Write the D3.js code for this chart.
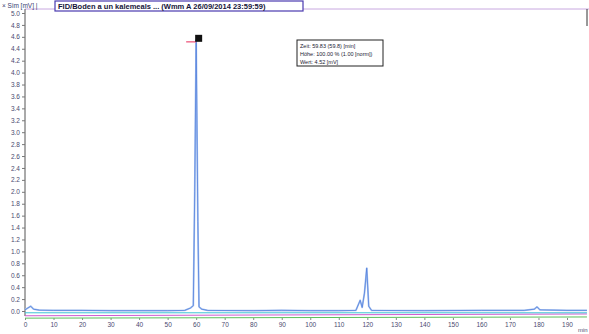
<!DOCTYPE html>
<html>
<head>
<meta charset="utf-8">
<script src="https://cdn.jsdelivr.net/npm/d3@7/dist/d3.min.js"></script>
<style>
  body { margin: 0; background: #fff; }
  svg text { font-family: "Liberation Sans", Arial, sans-serif; }
</style>
</head>
<body>
<div id="chart"></div>
<script>
// retention time (min) and signal of the main trace
const times  = [0, 1, 2, 3, 5, 10, 20, 30, 40, 50, 56, 58, 59, 59.5, 60, 60.6, 61, 62, 64, 80, 90, 100, 110, 116, 117.5, 118.2, 119, 119.8, 120.5, 121.5, 140, 160, 175, 178.5, 179.5, 180.5, 190, 197];
const signal = [0.02, 0.05, 0.08, 0.03, 0.015, 0.01, 0.01, 0.005, 0.005, 0.005, 0.01, 0.05, 0.09, 2.0, 4.55, 1.5, 0.07, 0.03, 0.01, 0.005, 0.012, 0.005, 0.005, 0.01, 0.18, 0.06, 0.3, 0.72, 0.08, 0.01, 0.005, 0.01, 0.01, 0.03, 0.07, 0.02, 0.01, 0.01];

// overlaid baseline traces (start / end)
const baseTimes   = [0, 197];
const cyanBase    = [-0.03, -0.03];
const magentaBase = [-0.08, -0.05];
const greenBase   = [-0.12, -0.10];

const xTicks = d3.range(0, 200, 10);
const yTicks = d3.range(0, 5.01, 0.2);

const title = "FID/Boden a un kalemeals ... (Wmm A 26/09/2014 23:59:59)";
const infoLines = ["Zeit:   59.83 (59.8) [min]", "Höhe:  100.00 % (1.00 [norm])", "Wert:   4.52 [mV]"];

const W = 589, H = 334;
const margin = { top: 14, right: 0, bottom: 23, left: 25 };

const svg = d3.select("#chart").append("svg").attr("width", W).attr("height", H);

const x = d3.scaleLinear().domain([0, 190]).range([margin.left, 567]);
const y = d3.scaleLinear().domain([0, 5]).range([311, 13]);

// frame lines
svg.append("line").attr("x1", margin.left).attr("x2", W).attr("y1", 9).attr("y2", 9)
  .attr("stroke", "#c8a8e0").attr("stroke-width", 1);
svg.append("line").attr("x1", 587).attr("x2", 587).attr("y1", 9).attr("y2", 26)
  .attr("stroke", "#333").attr("stroke-width", 1);

// y axis
svg.append("g")
  .attr("transform", `translate(${margin.left},0)`)
  .call(d3.axisLeft(y).tickValues(yTicks).tickFormat(d3.format(".1f")).tickSize(3).tickPadding(2))
  .call(g => g.select(".domain").attr("stroke", "#555").attr("d", `M0,9V316`))
  .call(g => g.selectAll(".tick line").attr("stroke", "#777"))
  .call(g => g.selectAll("text").attr("font-size", 6.5).attr("fill", "#4a4a70"));

// x axis (ticks and labels only)
svg.append("g")
  .attr("transform", `translate(0,318)`)
  .call(d3.axisBottom(x).tickValues(xTicks).tickSize(2).tickPadding(2))
  .call(g => g.select(".domain").remove())
  .call(g => g.selectAll(".tick line").attr("stroke", "#888"))
  .call(g => g.selectAll("text").attr("font-size", 6.5).attr("fill", "#4a4a70"));

svg.append("text").attr("x", 578).attr("y", 332).attr("font-size", 6).attr("fill", "#4a4a70").text("min");

// baseline overlays
const line = d3.line().x(d => x(d[0])).y(d => y(d[1]));
[[greenBase, "#5cbf5c"], [magentaBase, "#d05ad0"], [cyanBase, "#3ec4d6"]].forEach(([vals, col]) => {
  svg.append("path")
    .datum(baseTimes.map((t, i) => [t, vals[i]]))
    .attr("fill", "none").attr("stroke", col).attr("stroke-width", 1)
    .attr("d", line);
});

// main trace
const trace = times.map((t, i) => [t, signal[i]]);
svg.append("path").datum(trace)
  .attr("fill", "none").attr("stroke", "#a6c2f0").attr("stroke-width", 1.8)
  .attr("stroke-linejoin", "round").attr("d", line);
svg.append("path").datum(trace)
  .attr("fill", "none").attr("stroke", "#4a78da").attr("stroke-width", 0.7)
  .attr("stroke-linejoin", "round").attr("d", line);

// peak marker
const iMax = d3.maxIndex(signal);
const px = x(times[iMax]), py = y(signal[iMax]);
svg.append("line").attr("x1", px - 10).attr("x2", px).attr("y1", py + 2).attr("y2", py + 2)
  .attr("stroke", "#f07090").attr("stroke-width", 1.5);
svg.append("rect").attr("x", px - 1).attr("y", py - 5).attr("width", 7).attr("height", 7).attr("fill", "#111");

// info box
const box = svg.append("g").attr("transform", "translate(297,40)");
box.append("rect").attr("width", 86).attr("height", 26)
  .attr("fill", "#fff").attr("stroke", "#222").attr("stroke-width", 1);
box.selectAll("text").data(infoLines).join("text")
  .attr("x", 3).attr("y", (d, i) => 8 + i * 8)
  .attr("font-size", 5.5).attr("fill", "#223").text(d => d);

// header
svg.append("text").attr("x", 2).attr("y", 8).attr("font-size", 6.5).attr("fill", "#3a3a70").text("× Sim [mV] |");
svg.append("rect").attr("x", 55).attr("y", 1).attr("width", 248).attr("height", 10)
  .attr("fill", "#fff").attr("stroke", "#4a3ab0").attr("stroke-width", 1.2);
svg.append("text").attr("x", 58).attr("y", 9).attr("font-size", 7.5).attr("font-weight", "bold")
  .attr("fill", "#15153a").text(title);
</script>
</body>
</html>
